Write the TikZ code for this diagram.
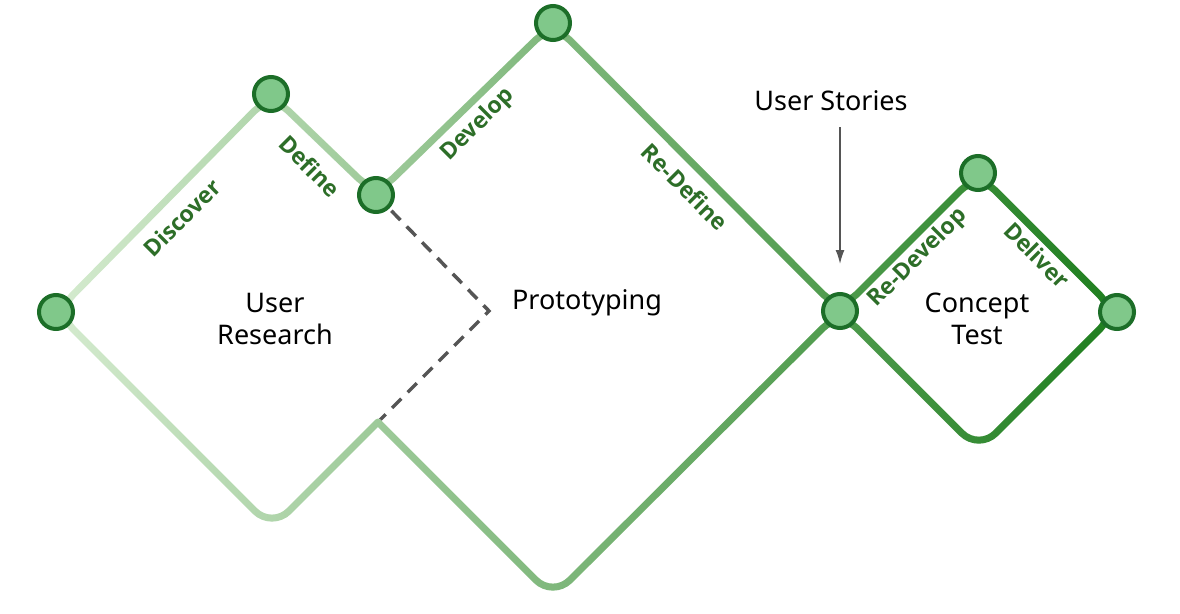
\documentclass[tikz,border=0pt]{standalone}
\usepackage{fontspec}
\setmainfont{Noto Sans}
\newfontfamily\phasefont{Open Sans}
\usetikzlibrary{backgrounds,fadings,arrows.meta}

\definecolor{palegreen}{RGB}{214,236,208}
\definecolor{deepgreen}{RGB}{30,126,30}
\definecolor{dotfill}{RGB}{128,200,138}
\definecolor{dotline}{RGB}{28,110,40}
\definecolor{labelgreen}{RGB}{45,110,40}
\definecolor{dashgray}{RGB}{85,85,85}

\begin{document}
\begin{tikzpicture}[x=1pt,y=-1pt]
                \tikzstyle{stage}=[draw=dotline, fill=dotfill, circle, line width=4pt, minimum size=34pt, inner sep=0pt]
                \tikzstyle{track}=[line width=7pt, line cap=round, line join=round, rounded corners=24pt]
                \tikzstyle{phase}=[font=\phasefont\bfseries\fontsize{23}{23}\selectfont, text=labelgreen, inner sep=0pt]
                \tikzstyle{area}=[font=\fontsize{27}{32}\selectfont, align=center, inner sep=0pt]
                \tikzstyle{dashline}=[line width=3.5pt, draw=dashgray, dash pattern=on 13pt off 9pt]
                \tikzstyle{pointer}=[-{Latex[length=14pt,width=9pt]}, line width=1.5pt, draw=dashgray, fill=dashgray]

                \useasboundingbox (0,0) rectangle (1180,613);

                \node[stage] (l) at (56,312) {};
                \node[stage] (t1) at (271,94) {};
                \node[stage] (m1) at (376,195) {};
                \node[stage] (t2) at (553,23) {};
                \node[stage] (s) at (840,311) {};
                \node[stage] (t3) at (978,173) {};
                \node[stage] (r) at (1117,312) {};

                \coordinate (b1) at (272,528);
                \coordinate (j) at (378,422);
                \coordinate (b2) at (553,597);
                \coordinate (b3) at (979,450);
                \coordinate (d) at (489,311);
                \coordinate (us) at (840,127);

                \node[phase, rotate=45] (discover) at (182,218) {Discover};
                \node[phase, rotate=-45] (define) at (310,166) {Define};
                \node[phase, rotate=45] (develop) at (478,125) {Develop};
                \node[phase, rotate=-45] (redefine) at (685,187) {Re-Define};
                \node[phase, rotate=45] (redevelop) at (918,258) {Re-Develop};
                \node[phase, rotate=-45] (deliver) at (1037,255) {Deliver};

                \node[area] (research) at (275,319) {User\\Research};
                \node[area] (proto) at (587,303) {Prototyping};
                \node[area] (concept) at (977,319) {Concept\\Test};
                \node[area] (stories) at (831,101) {User Stories};

                \draw[pointer] (us) -- (s.north) [shorten >=28pt];

                \begin{pgfonlayer}{background}
                    \draw[dashline] (m1.center) -- (d) -- (j);
                    \draw[track, draw=palegreen, postaction={draw=deepgreen, path fading=west}]
                        (j) -- (b1) -- (l.center) -- (t1.center) -- (m1.center) -- (t2.center) -- (s.center)
                        -- (t3.center) -- (r.center) -- (b3) -- (s.center) -- (b2) -- (j);
                \end{pgfonlayer}
            \end{tikzpicture}
\end{document}
